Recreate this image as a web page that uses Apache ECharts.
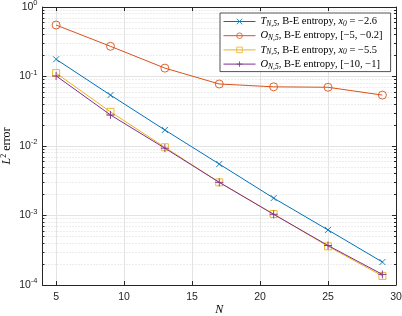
<!DOCTYPE html>
<html><head><meta charset="utf-8">
<script src="https://cdn.jsdelivr.net/npm/echarts@6/dist/echarts.min.js"></script>
<style>html,body{margin:0;padding:0;background:#fff}#c{width:402px;height:316px}</style>
</head><body><div id="c"></div>
<script>
var Ns = [5, 9, 13, 17, 21, 25, 29];
var xTicks = [5, 10, 15, 20, 25, 30];
var T1 = [0.177, 0.054, 0.017, 0.0055, 0.00178, 0.00062, 0.000214];
var O1 = [0.55, 0.272, 0.132, 0.078, 0.071, 0.070, 0.054];
var T2 = [0.112, 0.031, 0.0096, 0.0030, 0.00105, 0.00036, 0.000135];
var O2 = [0.102, 0.028, 0.0093, 0.0030, 0.00104, 0.00037, 0.000142];
var names = ['T1', 'O1', 'T2', 'O2'];
var legendLabels = {
  T1: '{i|T}{sub|N,5}{r|, B-E entropy, }{i|x}{sub|0}{r| = −2.6}',
  O1: '{i|O}{sub|N,5}{r|, B-E entropy, [−5, −0.2]}',
  T2: '{i|T}{sub|N,5}{r|, B-E entropy, }{i|x}{sub|0}{r| = −5.5}',
  O2: '{i|O}{sub|N,5}{r|, B-E entropy, [−10, −1]}'
};
var colors = ['#0072BD', '#D95319', '#EDB120', '#7E2F8E'];
var symbols = ['path://M0,0L10,10M10,0L0,10', 'circle', 'rect', 'path://M5,0L5,10M0,5L10,5'];
var sizes = [6, 8, 7, 8];
var dataSets = [T1, O1, T2, O2];

var serif = 'Liberation Serif';
var sans = 'Liberation Sans';
var axisColor = '#262626';

function mkSeries(i) {
  return {
    name: names[i], type: 'line', color: colors[i],
    data: Ns.map(function (n, k) { return [n, dataSets[i][k]]; }),
    symbol: symbols[i], symbolSize: sizes[i], showAllSymbol: true,
    lineStyle: { color: colors[i], width: 1 },
    itemStyle: { color: 'rgba(255,255,255,0)', borderColor: colors[i], borderWidth: 0.9 },
    z: 10 + i
  };
}

var chart = echarts.init(document.getElementById('c'), null, { renderer: 'canvas' });
var baseX = {
  type: 'value', min: 4, max: 30,
  axisLine: { show: true, lineStyle: { color: axisColor, width: 1 } },
  axisTick: { show: true, inside: true, length: 4, customValues: xTicks, lineStyle: { color: axisColor } },
  splitLine: { show: false }
};
var baseY = {
  type: 'log', logBase: 10, min: 1e-4, max: 1,
  axisLine: { show: true, lineStyle: { color: axisColor, width: 1 } },
  axisTick: { show: true, inside: true, length: 4, lineStyle: { color: axisColor } },
  minorTick: { show: true, splitNumber: 9, length: 2, lineStyle: { color: axisColor } },
  splitLine: { show: false }
};
var option = {
  animation: false,
  backgroundColor: '#fff',
  grid: { left: 42.5, right: 6, top: 7, bottom: 31, containLabel: false, outerBoundsMode: 'none' },
  legend: {
    orient: 'vertical', left: 220, top: 13,
    data: names,
    backgroundColor: '#fff', borderColor: '#262626', borderWidth: 0.8,
    padding: [2, 8, 1, 3], itemGap: 1.2, itemWidth: 32, itemHeight: 7,
    lineStyle: { width: 1 },
    itemStyle: { borderWidth: 0.8 },
    formatter: function (n) { return legendLabels[n]; },
    textStyle: {
      color: '#000',
      rich: {
        i: { fontFamily: serif, fontStyle: 'italic', fontSize: 10.5, color: '#000', lineHeight: 11 },
        sub: { fontFamily: serif, fontStyle: 'italic', fontSize: 7.5, padding: [5, 0, 0, 0], color: '#000', lineHeight: 11 },
        r: { fontFamily: serif, fontSize: 10.5, color: '#000', lineHeight: 11 }
      }
    }
  },
  xAxis: [
    Object.assign({}, baseX, {
      position: 'bottom',
      axisLabel: { show: true, customValues: xTicks, fontFamily: sans, fontSize: 10.5, color: axisColor, margin: 7 },
      splitLine: { show: true, lineStyle: { color: '#e3e3e3', width: 1 } },
      name: 'N', nameLocation: 'middle', nameGap: 19, nameMoveOverlap: false,
      nameTextStyle: { fontFamily: serif, fontStyle: 'italic', fontSize: 12, color: '#000' }
    }),
    Object.assign({}, baseX, { position: 'top', axisLabel: { show: false } })
  ],
  yAxis: [
    Object.assign({}, baseY, {
      position: 'left',
      axisLabel: {
        show: true, margin: 5,
        formatter: function (v) { var e = Math.round(Math.log10(v)); return '{b|10}{s|' + e + '}'; },
        rich: {
          b: { fontFamily: sans, fontSize: 10.5, color: axisColor },
          s: { fontFamily: sans, fontSize: 7.5, color: axisColor, padding: [0, 0, 8, 0] }
        }
      },
      splitLine: { show: true, lineStyle: { color: '#e3e3e3', width: 1 } },
      minorSplitLine: { show: true, lineStyle: { color: '#dadada', width: 1, type: [1, 2] } },
      name: '{i|L}{sup|2}{r| error}', nameLocation: 'middle', nameGap: 28, nameMoveOverlap: false,
      nameTextStyle: {
        rich: {
          i: { fontFamily: serif, fontStyle: 'italic', fontSize: 12, color: '#000' },
          sup: { fontFamily: serif, fontSize: 8, color: '#000', padding: [0, 0, 7, 0] },
          r: { fontFamily: serif, fontSize: 12, color: '#000' }
        }
      }
    }),
    Object.assign({}, baseY, { position: 'right', axisLabel: { show: false } })
  ],
  series: [0, 1, 2, 3].map(mkSeries)
};
chart.setOption(option);
</script>
</body></html>
